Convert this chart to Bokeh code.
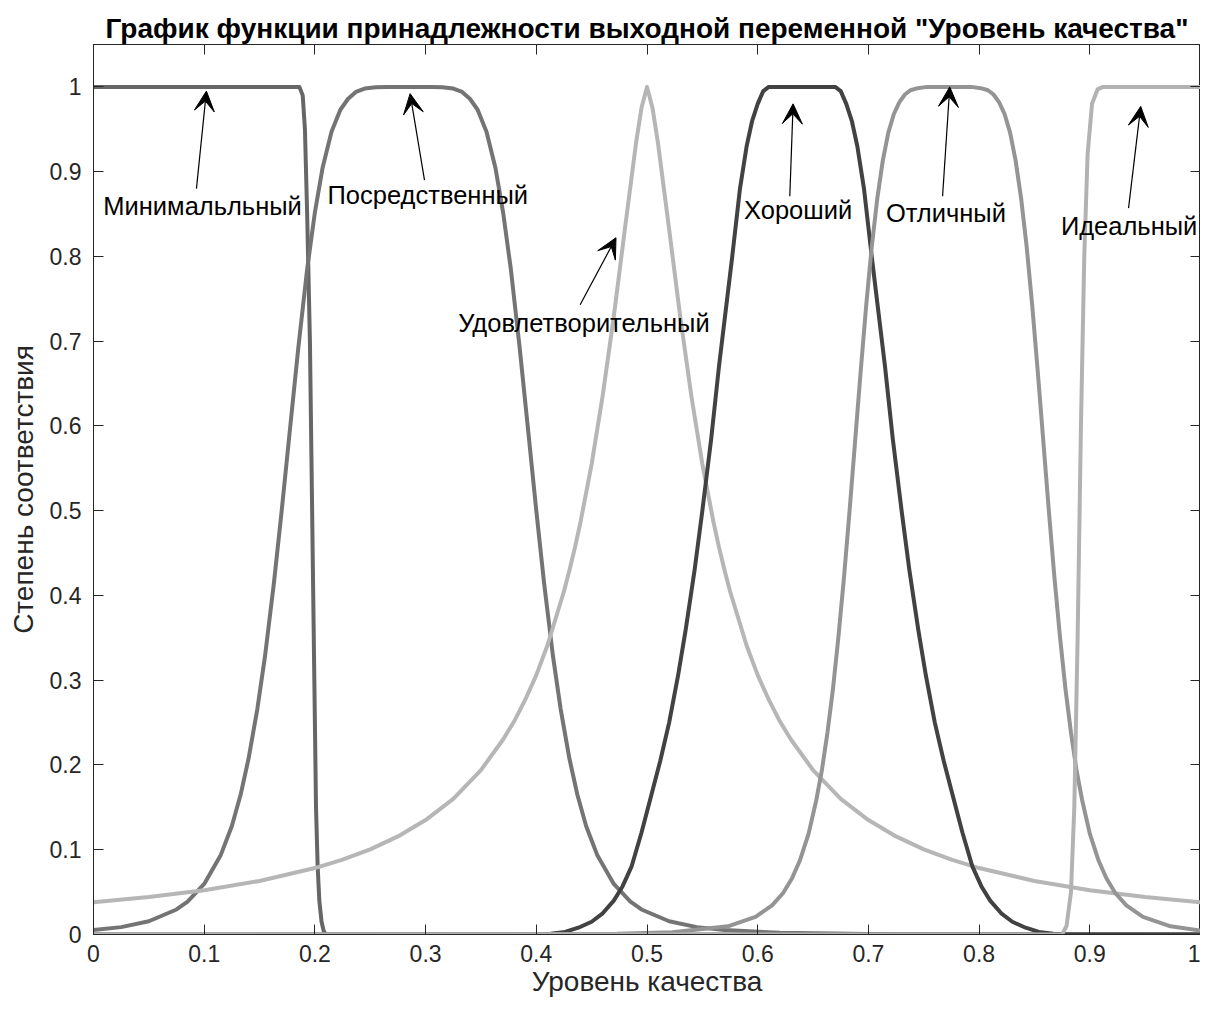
from bokeh.plotting import figure
from bokeh.models import Range1d, LinearAxis, FixedTicker, Arrow, VeeHead, Label
from bokeh.embed import file_html
from bokeh.resources import INLINE

# ---- data ----
tick_values = [0, 0.1, 0.2, 0.3, 0.4, 0.5, 0.6, 0.7, 0.8, 0.9, 1]
tick_labels = ["0", "0.1", "0.2", "0.3", "0.4", "0.5", "0.6", "0.7", "0.8", "0.9", "1"]

names = ["Минимальльный", "Посредственный", "Удовлетворительный",
         "Хороший", "Отличный", "Идеальный"]

min_x = [0, 0.186, 0.189, 0.191, 0.193, 0.1955, 0.1975, 0.1995, 0.201, 0.2025,
         0.204, 0.206, 0.208, 0.21, 1]
min_y = [1, 1, 0.99, 0.95, 0.85, 0.7, 0.5, 0.3, 0.15, 0.08,
         0.04, 0.015, 0.004, 0, 0]

pos_x = [0, 0.025, 0.05, 0.075, 0.085, 0.1, 0.115, 0.125, 0.133, 0.14, 0.148,
         0.155, 0.163, 0.17, 0.177, 0.185, 0.193, 0.2, 0.207, 0.215, 0.223, 0.23,
         0.237, 0.245, 0.255, 0.265, 0.285, 0.305, 0.315, 0.325, 0.333, 0.34, 0.347,
         0.355, 0.363, 0.37, 0.377, 0.385, 0.393, 0.4, 0.407, 0.415, 0.422, 0.43,
         0.437, 0.445, 0.455, 0.47, 0.485, 0.495, 0.52, 0.545, 0.57, 0.62, 0.7, 1]
pos_y = [0.0052, 0.0087, 0.0156, 0.0295, 0.0388, 0.0596, 0.0939, 0.128, 0.1655,
         0.207, 0.266, 0.329, 0.415, 0.5, 0.59, 0.692, 0.785, 0.852, 0.905, 0.947,
         0.973, 0.986, 0.994, 0.998, 0.9996, 1, 1, 1, 0.9996, 0.998, 0.994, 0.986,
         0.973, 0.947, 0.905, 0.852, 0.785, 0.692, 0.59, 0.5, 0.415, 0.329, 0.266,
         0.207, 0.1655, 0.128, 0.0939, 0.0596, 0.0388, 0.0295, 0.0156, 0.0087,
         0.0052, 0.002, 0.0006, 0.0001]

sat_x = [0, 0.05, 0.1, 0.15, 0.2, 0.225, 0.25, 0.275, 0.3, 0.325, 0.35, 0.37, 0.38,
         0.39, 0.4, 0.41, 0.425, 0.43, 0.435, 0.44, 0.45, 0.46, 0.47, 0.48, 0.49,
         0.495, 0.5, 0.505, 0.51, 0.52, 0.53, 0.54, 0.55, 0.56, 0.565, 0.57, 0.575,
         0.59, 0.6, 0.61, 0.62, 0.63, 0.65, 0.675, 0.7, 0.725, 0.75, 0.775, 0.8,
         0.85, 0.9, 0.95, 1]
sat_y = [0.038, 0.0442, 0.0523, 0.0632, 0.0784, 0.0883, 0.1005, 0.1157, 0.135,
         0.160, 0.194, 0.230, 0.2515, 0.277, 0.306, 0.341, 0.405, 0.430, 0.457,
         0.487, 0.555, 0.636, 0.729, 0.832, 0.933, 0.975, 1, 0.975, 0.933, 0.832,
         0.729, 0.636, 0.555, 0.487, 0.457, 0.430, 0.405, 0.341, 0.306, 0.277,
         0.2515, 0.230, 0.194, 0.160, 0.135, 0.1157, 0.1005, 0.0883, 0.0784, 0.0632,
         0.0523, 0.0442, 0.038]

good_x = [0, 0.4, 0.413, 0.426, 0.438, 0.45, 0.46, 0.47, 0.478, 0.486, 0.495, 0.504,
          0.512, 0.52, 0.528, 0.535, 0.543, 0.55, 0.558, 0.565, 0.571, 0.577, 0.584,
          0.59, 0.595, 0.6, 0.605, 0.61,
          0.67, 0.675, 0.68, 0.685, 0.69, 0.696, 0.703, 0.709, 0.715, 0.722, 0.73,
          0.737, 0.745, 0.752, 0.76, 0.768, 0.776, 0.785, 0.794, 0.802, 0.81, 0.82,
          0.83, 0.842, 0.854, 0.867, 0.88, 1]
good_y = [0, 0, 0.001, 0.003, 0.008, 0.015, 0.025, 0.04, 0.057, 0.08, 0.12, 0.165,
          0.205, 0.25, 0.305, 0.36, 0.43, 0.5, 0.585, 0.67, 0.735, 0.8, 0.88,
          0.93, 0.96, 0.98, 0.995, 1,
          1, 0.995, 0.98, 0.96, 0.93, 0.88, 0.8, 0.735, 0.67, 0.585, 0.5,
          0.43, 0.36, 0.305, 0.25, 0.205, 0.165, 0.12, 0.08, 0.057, 0.04, 0.025,
          0.015, 0.008, 0.003, 0.001, 0, 0]

exc_x = [0, 0.373, 0.473, 0.523, 0.573, 0.598, 0.613, 0.623, 0.631, 0.638, 0.646,
         0.653, 0.658, 0.663, 0.668, 0.673, 0.678, 0.683, 0.688, 0.693, 0.698, 0.703,
         0.708, 0.713, 0.718, 0.723, 0.728, 0.733, 0.738, 0.743, 0.753, 0.773, 0.793,
         0.803, 0.808, 0.813, 0.818, 0.823, 0.828, 0.833, 0.838, 0.843, 0.848, 0.853,
         0.858, 0.863, 0.868, 0.873, 0.878, 0.883, 0.888, 0.893, 0.9, 0.908, 0.915,
         0.923, 0.933, 0.948, 0.973, 1]
exc_y = [0, 0.0002, 0.0009, 0.0027, 0.0097, 0.0207, 0.0343, 0.049, 0.0663, 0.087,
         0.119, 0.159, 0.194, 0.238, 0.290, 0.352, 0.422, 0.5, 0.582, 0.664, 0.742,
         0.811, 0.868, 0.913, 0.946, 0.968, 0.982, 0.991, 0.996, 0.998, 1, 1, 1,
         0.998, 0.996, 0.991, 0.982, 0.968, 0.946, 0.913, 0.868, 0.811, 0.742, 0.664,
         0.582, 0.5, 0.422, 0.352, 0.290, 0.238, 0.194, 0.159, 0.119, 0.087, 0.0663,
         0.049, 0.0343, 0.0207, 0.0097, 0.0047]

ide_x = [0, 0.875, 0.879, 0.883, 0.886, 0.889, 0.892, 0.895, 0.898, 0.902, 0.907,
         0.912, 1]
ide_y = [0, 0, 0.01, 0.05, 0.15, 0.35, 0.6, 0.8, 0.92, 0.98, 0.997, 1, 1]

series_x = [min_x, pos_x, sat_x, good_x, exc_x, ide_x]
series_y = [min_y, pos_y, sat_y, good_y, exc_y, ide_y]
colors = ["#666666", "#747474", "#b6b6b6", "#424242", "#949494", "#b2b2b2"]

# annotation layout: (label x, label y, arrow tail x, tail y, head x, head y)
annot = [
    (0.0985, 0.859, 0.093, 0.880, 0.102, 0.995),
    (0.302, 0.873, 0.299, 0.890, 0.286, 0.992),
    (0.443, 0.722, 0.4396, 0.743, 0.472, 0.822),
    (0.6365, 0.855, 0.629, 0.871, 0.632, 0.980),
    (0.770, 0.851, 0.767, 0.871, 0.7735, 1.0),
    (0.9355, 0.836, 0.935, 0.857, 0.946, 0.977),
]

FONT = "Liberation Sans"
AX = "#262626"

p = figure(width=1200, height=999, x_range=Range1d(0, 1), y_range=Range1d(0, 1.05),
           output_backend="svg", toolbar_location=None,
           min_border_left=93, min_border_right=0, min_border_top=44,
           min_border_bottom=60,
           title='График функции принадлежности выходной переменной "Уровень качества"')
p.title.text_font = FONT
p.title.text_font_size = "28px"
p.title.text_font_style = "bold"
p.title.align = "center"
p.title.text_color = "black"
p.title.standoff = 2

p.grid.visible = False
p.outline_line_color = AX
p.outline_line_width = 1
p.background_fill_color = "white"
p.border_fill_color = "white"

overrides = {v: s for v, s in zip(tick_values, tick_labels)}
for ax in (p.xaxis[0], p.yaxis[0]):
    ax.ticker = FixedTicker(ticks=tick_values)
    ax.major_label_overrides = overrides
    ax.minor_tick_line_color = None
    ax.major_tick_in = 10
    ax.major_tick_out = 0
    ax.axis_line_color = AX
    ax.major_tick_line_color = AX
    ax.major_label_text_font = FONT
    ax.major_label_text_font_size = "23px"
    ax.major_label_text_color = AX
    ax.axis_label_text_font = FONT
    ax.axis_label_text_font_size = "28px"
    ax.axis_label_text_font_style = "normal"
    ax.axis_label_text_color = AX
p.xaxis[0].axis_label = "Уровень качества"
p.yaxis[0].axis_label = "Степень соответствия"
p.xaxis[0].major_label_standoff = 10
p.xaxis[0].axis_label_standoff = 1
p.yaxis[0].major_label_standoff = 12
p.yaxis[0].axis_label_standoff = 8

for loc in ("above", "right"):
    ax = LinearAxis(ticker=FixedTicker(ticks=tick_values), major_tick_in=10,
                    major_tick_out=0, minor_tick_line_color=None,
                    major_label_text_font_size="1px", major_label_text_color=None,
                    major_label_standoff=0,
                    axis_line_color=AX, major_tick_line_color=AX)
    p.add_layout(ax, loc)

for xs, ys, c in zip(series_x, series_y, colors):
    p.line(xs, ys, line_color=c, line_width=4, line_join="round")

for (lx, ly, tx, ty, hx, hy), name in zip(annot, names):
    p.add_layout(Arrow(end=VeeHead(size=20, fill_color="black", line_color="black"),
                       x_start=tx, y_start=ty, x_end=hx, y_end=hy,
                       line_color="black", line_width=1.2))
    p.add_layout(Label(x=lx, y=ly, text=name, text_align="center",
                       text_baseline="middle", text_font=FONT,
                       text_font_size="25.5px", text_color="black"))

open("out.html", "w").write(file_html(p, INLINE))
